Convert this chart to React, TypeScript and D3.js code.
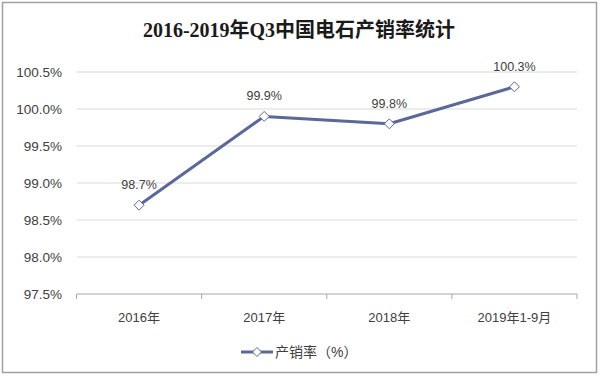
import React from "react";
import * as d3 from "d3";

const categories = ["2016年", "2017年", "2018年", "2019年1-9月"];
const values = [98.7, 99.9, 99.8, 100.3];
const yTicks = [97.5, 98.0, 98.5, 99.0, 99.5, 100.0, 100.5];
const title = "2016-2019年Q3中国电石产销率统计";
const seriesName = "产销率（%）";

const W = 600;
const H = 376;
const left = 76.5;
const right = 577;
const top = 72;
const bottom = 294;
const lineColor = "#5b6898";
const sans = "'Liberation Sans', Arial, 'Noto Sans CJK SC', sans-serif";

export default function App() {
  const x = d3.scaleBand<string>().domain(categories).range([left, right]).padding(0);
  const y = d3.scaleLinear().domain([97.5, 100.5]).range([bottom, top]);
  const cx = (c: string) => (x(c) as number) + x.bandwidth() / 2;
  const pts: [number, number][] = categories.map((c, i) => [cx(c), y(values[i])]);
  const line = d3.line<[number, number]>().x((d) => d[0]).y((d) => d[1]);
  const diamond = (px: number, py: number, r = 5) =>
    `M${px},${py - r}L${px + r},${py}L${px},${py + r}L${px - r},${py}Z`;
  const tickXs = [...categories.map((c) => x(c) as number), right];

  return (
    <svg width={W} height={H} style={{ position: "absolute", left: 0, top: 0, background: "#fff" }}>
      <rect x={2.5} y={2.5} width={594} height={370} fill="#fff" stroke="#a0a0a0" strokeWidth={1.5} />
      <text
        x={299}
        y={37}
        textAnchor="middle"
        fontFamily="'Liberation Serif', 'Noto Sans CJK SC', serif"
        fontWeight="bold"
        fontSize={20}
        fill="#1a1a1a"
      >
        {title}
      </text>
      {yTicks.map((t) => (
        <g key={t}>
          {t !== 97.5 && (
            <line x1={left} x2={right} y1={y(t)} y2={y(t)} stroke="#d9d9d9" strokeWidth={1} />
          )}
          <text
            x={62}
            y={y(t) + 4.5}
            textAnchor="end"
            fontFamily={sans}
            fontSize={13.5}
            fill="#404040"
          >
            {t.toFixed(1)}%
          </text>
        </g>
      ))}
      <line x1={left} x2={right} y1={bottom} y2={bottom} stroke="#a6a6a6" strokeWidth={1} />
      {tickXs.map((tx, i) => (
        <line key={i} x1={tx} x2={tx} y1={bottom} y2={bottom + 5} stroke="#a6a6a6" strokeWidth={1} />
      ))}
      {categories.map((c) => (
        <text
          key={c}
          x={cx(c)}
          y={322}
          textAnchor="middle"
          fontFamily={sans}
          fontSize={13}
          fill="#404040"
        >
          {c}
        </text>
      ))}
      <path d={line(pts) as string} fill="none" stroke={lineColor} strokeWidth={3} strokeLinejoin="round" />
      {pts.map(([px, py], i) => (
        <g key={i}>
          <path d={diamond(px, py)} fill="#fff" stroke={lineColor} strokeWidth={1} />
          <text
            x={px}
            y={py - 16}
            textAnchor="middle"
            fontFamily={sans}
            fontSize={12.5}
            fill="#404040"
          >
            {values[i].toFixed(1)}%
          </text>
        </g>
      ))}
      <line x1={241} x2={273} y1={352} y2={352} stroke={lineColor} strokeWidth={3} />
      <path d={diamond(257, 352, 4.5)} fill="#fff" stroke={lineColor} strokeWidth={1} />
      <text x={275} y={357} fontFamily={sans} fontSize={14} fill="#404040">
        {seriesName}
      </text>
    </svg>
  );
}
